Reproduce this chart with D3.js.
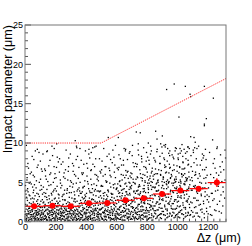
<!DOCTYPE html>
<html>
<head>
<meta charset="utf-8">
<script src="https://cdn.jsdelivr.net/npm/d3@7"></script>
<style>
  body { margin: 0; background: #fff; }
  svg { display: block; font-family: "Liberation Sans", Arial, sans-serif; }
</style>
</head>
<body>
<div id="chart"></div>
<script>
// ====== data ======
// profile (red markers): bin centres in um, mean impact parameter in um
const binCenters = [60, 180, 300, 420, 540, 660, 780, 900, 1020, 1140, 1260];
const binHalfWidth = 60;
const meanIP = [1.96, 2.03, 1.96, 2.34, 2.38, 2.72, 2.97, 3.52, 3.95, 4.2, 4.97];
const meanErr = [0.1, 0.1, 0.1, 0.1, 0.1, 0.12, 0.15, 0.2, 0.25, 0.3, 0.55];

// cut line (red dotted)
const cutX = [0, 500, 1320];
const cutY = [10, 10, 18.2];

// axis ticks
const xTicks = [0, 200, 400, 600, 800, 1000, 1200];
const yTicks = [0, 5, 10, 15, 20, 25];

// scatter points "dz,ip" (estimated)
const dotsRaw = `
5,0.3 12,0.8 18,1.5 22,0.2 27,1.1 31,1.9 36,0.6 40,2.3 44,0.4 48,1.3 53,0.9 57,1.7 61,0.1 65,2.0 69,0.7 73,1.2 77,2.6 81,0.5 85,1.6 89,0.3 93,1.0 97,2.2 101,0.8 105,1.4 109,0.2 113,1.8 117,0.6
8,1.0 15,2.1 25,0.5 33,1.4 46,0.2 55,2.5 63,1.1 71,0.4 79,1.9 87,0.9 95,1.5 103,0.3 111,1.2 119,2.4
10,3.1 20,3.8 38,2.9 50,4.4 66,3.3 84,2.8 99,4.0 115,3.5 28,4.9
14,5.6 42,6.3 58,7.9 75,5.2 92,8.8 108,6.7 81,9.2 3,4.6 35,5.0
124,0.4 128,1.3 133,0.8 137,2.0 141,0.2 146,1.6 150,0.9 154,2.4 158,0.5 162,1.1 167,1.8 171,0.3 175,1.4 179,0.7 183,2.2 188,1.0 192,0.1 196,1.7 200,0.6 205,1.2 209,2.6 213,0.4 217,1.5 221,0.9 226,2.1 230,0.3 234,1.3 238,0.7
126,1.9 139,0.6 152,1.5 165,0.2 178,2.7 190,1.1 203,0.8 215,2.3 228,1.6 236,0.1
131,3.2 144,4.1 160,2.9 173,3.6 186,5.0 199,3.0 211,4.5 224,3.4 192,9.3
135,5.8 156,7.1 169,6.2 181,8.4 194,5.5 207,6.9 219,7.6 232,5.3 147,9.0
243,0.3 247,1.2 251,0.7 255,1.9 259,0.1 264,1.5 268,0.9 272,2.3 276,0.4 280,1.0 285,1.7 289,0.2 293,1.3 297,0.6 301,2.1 306,0.8 310,1.4 314,0.3 318,1.8 322,0.5 327,1.1 331,2.5 335,0.2 339,1.6 343,0.9 348,2.0 352,0.4 356,1.2
245,2.0 258,0.7 271,1.4 283,0.1 296,1.9 309,1.0 321,2.6 334,0.6 346,1.5 358,0.2
249,3.4 262,2.8 278,4.2 291,3.1 304,3.7 317,4.8 329,2.9 342,3.9 355,4.3
253,5.7 266,6.6 287,8.1 299,5.2 312,7.4 325,6.0 338,9.6 350,5.5 330,10.3 361,9.3
363,0.5 367,1.4 371,0.9 375,2.1 379,0.2 384,1.6 388,1.0 392,2.5 396,0.4 400,1.2 405,1.9 409,0.3 413,1.5 417,0.7 421,2.3 426,1.1 430,0.6 434,1.8 438,2.8 442,0.4 447,1.3 451,2.0 455,0.8 459,1.6 463,0.2 468,2.4 472,1.0 476,1.7
365,2.7 378,0.8 391,3.0 403,1.5 416,2.2 429,0.3 441,2.9 454,1.4 466,3.3 478,0.9
369,3.6 382,4.4 398,3.2 411,5.1 424,3.9 437,4.7 449,3.4 462,4.1 474,5.4
373,6.2 386,7.3 407,5.8 419,8.6 432,6.5 445,9.4 457,7.0 470,5.9 420,9.2 458,9.5
483,0.6 487,1.5 491,0.2 495,2.2 499,1.0 504,1.7 508,0.4 512,2.6 516,1.2 520,0.7 525,2.0 529,0.3 533,1.4 537,2.9 541,0.9 546,1.8 550,0.5 554,2.4 558,1.1 562,0.2 567,1.6 571,2.7 575,0.8 579,1.3 583,0.4 588,2.1 592,1.0 596,1.9
485,3.1 498,0.9 511,2.3 523,1.4 536,3.4 549,0.6 561,2.8 574,1.5 586,3.0 598,0.3
489,3.8 502,4.6 518,3.3 531,5.2 544,4.0 557,4.9 569,3.5 582,4.3 594,5.6
493,6.4 506,7.7 527,6.0 539,8.3 552,6.8 565,5.7 577,9.1 590,7.2 547,10.7
603,0.4 607,1.6 611,0.9 615,2.5 619,0.3 624,1.9 628,1.2 632,3.0 636,0.6 640,1.4 645,2.2 649,0.2 653,1.7 657,3.3 661,0.8 666,2.0 670,1.1 674,2.8 678,0.5 682,1.5 687,3.6 691,0.9 695,2.3 699,1.3 703,0.3 708,2.6 712,1.8 716,3.9
605,3.2 618,1.0 631,2.7 643,4.1 656,1.3 669,3.5 681,2.1 694,4.4 706,0.7 718,2.9
609,4.8 622,3.7 638,5.3 651,4.2 664,5.9 677,3.4 689,4.9 702,6.1 714,3.8
613,6.6 626,8.0 647,7.2 659,9.0 672,6.3 685,8.7 697,5.6 710,7.5 613,10.7 661,9.2
723,0.5 727,1.7 731,1.0 735,2.9 739,0.3 744,2.2 748,1.3 752,3.4 756,0.7 760,1.9 765,2.6 769,0.4 773,1.5 777,3.8 781,1.1 786,2.3 790,0.6 794,3.1 798,1.6 802,0.2 807,2.7 811,4.1 815,0.9 819,1.8 823,3.3 828,0.5 832,2.0 836,4.4
725,3.6 738,1.2 751,4.7 763,2.4 776,0.8 789,5.0 801,3.0 814,1.4 826,4.6 838,2.5
729,5.4 742,4.0 758,6.1 771,5.5 784,3.9 797,6.7 809,4.3 822,5.8 834,6.4
733,7.0 746,8.5 767,7.6 779,9.4 792,6.9 805,8.2 817,7.3 830,9.0 731,11.4 757,11.3 744,9.9 810,10.0
843,0.6 847,2.0 851,1.1 855,3.3 859,0.4 864,2.5 868,1.5 872,3.9 876,0.8 880,2.2 885,3.0 889,0.5 893,1.7 897,4.3 901,1.3 906,2.7 910,0.9 914,3.6 918,1.9 922,0.3 927,3.1 931,4.7 935,1.0 939,2.3 943,5.0 948,0.7 952,2.6 956,4.0
845,4.4 858,1.4 871,5.2 883,2.8 896,1.0 909,5.6 921,3.4 934,1.6 946,5.1 958,2.9
849,6.0 862,4.8 878,6.6 891,5.9 904,4.6 917,7.2 929,6.3 942,4.9 954,6.9
853,7.8 866,8.9 887,7.4 899,9.5 912,8.1 925,7.0 937,9.3 950,8.4 858,11.5 902,10.9 867,10.5 891,9.9 913,9.7 921,9.5 930,16.8
963,0.7 967,2.3 971,1.2 975,3.7 979,0.5 984,2.8 988,1.6 992,4.2 996,0.9 1000,2.5 1005,3.3 1009,0.6 1013,1.9 1017,4.6 1021,1.4 1026,3.0 1030,1.0 1034,3.9 1038,2.1 1042,0.4 1047,3.4 1051,5.1 1055,1.1 1059,2.6 1063,5.4 1068,0.8 1072,2.9 1076,4.4
965,4.9 978,1.6 991,5.7 1003,3.1 1016,1.2 1029,6.0 1041,3.8 1054,1.8 1066,5.5 1078,3.2
969,6.5 982,5.3 998,7.1 1011,6.2 1024,4.9 1037,7.6 1049,6.8 1062,5.2 1074,7.3
973,8.2 986,9.0 1007,7.9 1019,8.7 1032,6.7 1045,9.2 1057,8.0 1070,9.5 980,17.5 1053,17.2 1011,13.3 1031,9.8 994,9.3 1018,9.3
1083,0.8 1088,2.5 1093,1.4 1098,4.0 1103,0.6 1108,3.0 1113,1.8 1118,4.6 1123,1.1 1128,2.7 1133,3.6 1138,0.7 1143,2.1 1148,5.0 1153,1.5 1158,3.3 1163,1.2 1168,4.3 1173,2.3 1178,0.5 1183,3.8 1188,5.6 1193,1.3 1197,2.8
1085,5.3 1100,6.4 1115,5.9 1130,7.2 1145,6.1 1160,7.8 1175,5.5 1190,6.9
1090,8.4 1105,9.1 1125,8.0 1140,9.6 1165,8.6 1185,9.2
1084,16.2 1088,15.9 1178,17.2 1191,13.1 1178,12.4 1178,12.2 1088,10.8 1110,10.7 1118,10.1 1079,9.3 1070,9.5 1114,9.4
1203,1.0 1209,3.2 1215,1.9 1221,4.8 1227,0.8 1233,2.7 1239,5.6 1245,1.5 1251,3.9 1257,6.2 1263,2.2 1269,4.5 1275,1.3 1281,7.0 1287,3.4 1293,5.1 1299,2.0 1305,6.6 1311,3.0 1317,8.1
1212,8.8 1236,7.4 1260,9.3 1284,8.5 1237,15.7 1232,10.4 1263,9.5
2,0.9 7,1.6 11,0.4 16,2.7 21,1.3 26,0.1 30,1.7 34,0.9 39,0.3 43,1.5 47,2.1 52,0.6 56,1.0 60,2.9 64,0.5 68,1.8 72,0.2 76,1.4 80,0.8 83,2.3 88,1.1 91,0.4 96,1.9 100,0.6 104,2.6 107,1.1 112,0.3 116,1.5
4,2.2 9,0.2 19,1.0 24,1.7 29,2.4 37,1.2 45,0.7 51,1.9 59,0.4 67,1.4 74,0.9 82,1.2 90,2.0 98,0.1 106,0.9 114,2.8 118,1.0
6,3.5 17,4.2 32,3.3 49,3.0 62,4.7 78,3.6 94,3.2 110,4.1 23,6.8 54,5.9 86,7.2 102,5.4
122,1.1 127,0.3 132,2.2 136,1.4 140,0.6 145,2.8 149,0.2 153,1.0 157,1.8 161,0.5 166,2.5 170,1.2 174,0.1 178,1.6 182,0.9 187,2.0 191,0.4 195,1.3 199,2.3 204,0.7 208,1.5 212,0.2 216,1.9 220,1.1 225,0.5 229,2.6 233,0.8 237,1.7
123,2.5 130,0.7 138,1.5 143,0.3 151,2.0 159,1.3 163,0.8 172,2.2 180,0.4 185,1.5 193,2.9 201,1.0 210,0.6 218,2.4 223,0.3 231,1.1 239,1.9
125,3.7 142,3.1 157,4.6 176,3.4 189,4.0 206,3.9 222,3.0 235,4.3 134,6.5 164,7.8 197,6.1 227,8.0
241,1.0 246,0.4 250,2.2 254,1.1 258,0.6 263,2.7 267,0.2 271,1.6 275,0.9 279,2.0 284,0.5 288,1.3 292,2.4 296,0.1 300,1.0 305,1.8 309,0.6 313,2.2 317,1.1 321,0.3 326,1.5 330,0.8 334,1.9 338,0.4 342,2.6 347,1.3 351,0.7 355,1.8
242,1.6 248,2.8 256,0.3 261,1.2 269,1.9 277,0.6 282,2.5 290,1.0 298,1.5 303,0.4 311,2.0 319,0.9 324,2.9 332,1.4 340,0.2 349,1.0 357,2.3
244,3.2 260,4.0 274,3.6 295,4.5 308,3.0 323,3.8 337,4.9 353,3.3 257,6.2 286,7.0 316,6.4 345,8.3
361,1.1 366,0.3 370,2.4 374,1.3 378,0.6 383,2.9 387,0.2 391,1.7 395,1.0 399,2.2 404,0.5 408,1.5 412,2.6 416,0.4 420,1.2 425,1.9 429,0.8 433,2.4 437,1.3 441,0.1 446,1.6 450,2.8 454,1.1 458,0.5 462,2.1 467,1.4 471,0.7 475,2.5
362,2.0 368,0.9 376,3.1 381,1.5 389,0.3 397,2.7 401,1.0 410,0.6 418,1.8 423,3.0 431,0.4 439,2.2 444,1.1 452,0.2 460,2.6 465,1.5 473,0.3 479,1.2
364,3.6 380,4.3 394,3.4 415,4.8 428,3.7 443,4.2 456,3.9 470,4.6 377,6.0 406,7.4 436,6.6 464,8.0
481,1.2 486,0.4 490,2.6 494,1.5 498,0.7 503,3.0 507,0.3 511,1.8 515,1.1 519,2.4 524,0.6 528,1.6 532,2.8 536,0.2 540,1.3 545,2.1 549,0.9 553,2.6 557,1.4 561,0.5 566,1.9 570,3.1 574,1.0 578,0.3 582,2.2 587,1.5 591,0.8 595,2.7
482,2.1 488,1.0 496,3.3 501,1.6 509,0.4 517,2.9 521,1.2 530,0.7 538,2.0 543,3.2 551,0.5 559,2.3 564,1.2 572,0.3 580,2.5 585,1.7 593,0.5 599,1.3
484,3.9 500,4.5 514,3.6 535,5.0 548,3.8 563,4.4 576,3.5 590,4.8 497,6.2 526,7.0 556,6.5 584,8.2
601,1.3 606,0.5 610,2.8 614,1.6 618,0.8 623,3.2 627,0.3 631,2.0 635,1.2 639,2.6 644,0.7 648,1.8 652,3.0 656,0.2 660,1.4 665,2.3 669,1.0 673,2.9 677,1.6 681,0.6 686,2.1 690,3.4 694,1.1 698,0.4 702,2.5 707,1.7 711,0.9 715,3.1
602,2.3 608,1.1 616,3.6 621,1.8 629,0.5 637,3.3 641,1.4 650,0.8 658,2.2 663,3.8 671,0.6 679,2.6 684,1.3 692,0.3 700,2.8 705,1.9 713,0.6 719,1.5
604,4.3 620,5.1 634,4.0 655,5.6 668,4.5 683,5.0 696,4.2 710,5.4 617,6.9 646,7.8 676,6.4 704,8.4 625,4.6 662,4.9 690,5.8
721,1.4 726,0.6 730,3.0 734,1.8 738,0.9 743,3.5 747,0.4 751,2.2 755,1.3 759,2.8 764,0.8 768,2.0 772,3.3 776,0.3 780,1.5 785,2.5 789,1.1 793,3.2 797,1.8 801,0.7 806,2.3 810,3.7 814,1.2 818,0.5 822,2.7 827,1.9 831,1.0 835,3.4
722,2.5 728,1.2 736,3.9 741,2.0 749,0.6 757,3.6 761,1.5 770,0.9 778,2.4 783,4.2 791,0.7 799,2.9 804,1.4 812,0.4 820,3.0 825,2.1 833,0.8 839,1.7
724,4.8 740,5.6 754,4.5 775,6.0 788,5.2 803,5.7 816,4.9 830,6.2 737,7.3 766,8.0 796,7.7 824,8.6 745,4.4 782,4.6 812,5.3 836,5.0
841,1.6 846,0.7 850,3.4 854,2.0 858,1.0 863,3.9 867,0.5 871,2.5 875,1.5 879,3.2 884,0.9 888,2.3 892,3.7 896,0.4 900,1.7 905,2.9 909,1.3 913,3.6 917,2.1 921,0.8 926,2.6 930,4.2 934,1.4 938,0.6 942,3.1 947,2.2 951,1.1 955,3.8
842,2.9 848,1.4 856,4.4 861,2.3 869,0.7 877,4.0 881,1.8 890,1.0 898,2.8 903,4.6 911,0.9 919,3.3 924,1.6 932,0.5 940,3.5 945,2.4 953,1.0 959,2.0
844,5.4 860,6.1 874,5.0 895,6.5 908,5.7 923,6.2 936,5.3 950,6.8 857,7.6 886,8.3 916,7.9 944,8.7 865,4.9 900,5.1 928,4.8 955,5.5
961,1.7 966,0.8 970,3.8 974,2.3 978,1.1 983,4.3 987,0.6 991,2.8 995,1.7 999,3.6 1004,1.0 1008,2.6 1012,4.1 1016,0.5 1020,2.0 1025,3.3 1029,1.5 1033,4.0 1037,2.4 1041,0.9 1046,3.0 1050,4.7 1054,1.6 1058,0.7 1062,3.5 1067,2.5 1071,1.2 1075,4.2
962,3.2 968,1.6 976,4.9 981,2.6 989,0.8 997,4.4 1001,2.0 1010,1.2 1018,3.1 1023,5.1 1031,1.0 1039,3.7 1044,1.8 1052,0.6 1060,3.9 1065,2.7 1073,1.1 1079,2.2
964,5.8 980,6.6 994,5.4 1015,7.0 1028,6.1 1043,6.7 1056,5.6 1070,7.2 977,8.0 1006,8.6 1036,8.3 1064,8.9 985,5.0 1020,5.3 1048,4.8 1077,5.7
1081,1.8 1087,0.9 1092,4.0 1097,2.4 1102,1.2 1107,4.5 1112,0.7 1117,3.0 1122,1.9 1127,3.8 1132,1.1 1137,2.7 1142,4.4 1147,0.6 1152,2.2 1157,3.5 1162,1.6 1167,4.2 1172,2.6 1177,1.0 1182,3.2 1187,4.9 1192,1.7 1196,3.4
1095,5.6 1120,6.3 1150,5.8 1180,6.6 1110,7.5 1170,8.1
1206,2.5 1218,0.9 1224,3.6 1242,2.9 1254,1.4 1266,4.0 1278,2.6 1290,1.1 1302,3.8 1314,5.3 1248,6.8 1296,7.6
3,3.9 13,5.3 19,7.4 27,3.4 34,6.1 41,4.8 47,8.3 54,3.7 62,5.7 68,9.0 73,4.3 80,6.9 88,3.5 94,5.0 101,7.7 106,4.6 113,6.4 118,8.6 9,9.7 57,4.0
121,4.4 129,6.7 136,3.6 143,8.9 150,5.1 157,3.3 163,6.0 170,4.7 177,9.6 184,3.8 191,7.0 198,4.2 204,5.6 212,8.2 219,3.5 226,6.3 233,4.9 238,7.3 140,5.4 208,9.9
242,4.6 249,7.6 256,3.5 263,5.5 270,9.1 277,4.0 284,6.4 291,3.7 298,8.6 305,5.0 312,4.4 319,7.1 326,3.4 333,5.8 340,9.4 347,4.1 354,6.9 359,3.9 281,5.3 336,7.9
362,5.0 369,7.8 376,3.8 383,6.2 390,4.5 397,9.0 404,3.6 411,6.8 418,4.2 425,8.1 432,5.4 439,3.7 446,7.3 453,4.8 460,6.0 467,9.6 474,3.9 479,5.7 393,5.2 435,8.8
482,5.2 489,8.0 496,3.9 503,6.6 510,4.5 517,9.3 524,3.7 531,7.0 538,5.1 545,4.0 552,8.6 559,5.9 566,3.6 573,7.5 580,4.7 587,6.3 594,9.7 599,4.1 513,5.8 562,7.9
601,4.2 606,6.8 612,3.9 617,8.5 623,5.2 628,4.5 634,7.2 640,3.6 645,5.9 651,9.3 656,4.8 662,6.5 667,3.8 673,7.9 678,5.5 684,4.1 689,8.9 695,6.2 700,4.6 706,9.7 711,5.0 717,7.0 632,6.0 690,4.4
721,4.9 726,7.4 732,3.9 737,5.7 743,9.1 748,4.5 754,6.6 759,3.8 765,8.3 770,5.2 776,4.2 781,7.0 787,5.9 792,3.7 798,8.8 803,6.3 809,4.6 814,7.8 820,5.5 825,9.6 831,4.1 836,6.8 762,5.6 805,4.9 828,5.1
841,5.8 846,8.1 852,4.3 857,6.7 863,3.9 868,9.2 874,5.3 879,4.6 885,7.4 890,6.0 896,3.8 901,8.7 907,5.4 912,4.2 918,6.9 923,9.8 929,5.1 934,7.7 940,4.4 945,6.2 951,9.0 956,5.6 870,6.1 915,5.0 948,7.3
961,6.0 966,8.5 972,4.6 977,7.2 983,5.4 988,9.4 994,4.2 999,6.4 1005,8.1 1010,5.0 1016,6.9 1021,4.4 1027,9.0 1032,5.7 1038,7.5 1043,4.8 1049,6.1 1054,8.7 1060,5.3 1065,4.1 1071,7.8 1076,6.3 990,5.1 1040,5.9
1082,4.7 1091,7.0 1099,5.2 1106,8.8 1114,4.4 1121,6.0 1129,9.3 1136,5.5 1144,3.9 1151,7.2 1159,4.9 1166,6.6 1174,8.4 1181,4.3 1189,7.9 1196,5.9
1205,4.3 1219,6.0 1230,3.6 1244,8.0 1258,4.9 1272,5.9 1286,6.3 1300,4.4 1314,9.1
1,1.3 14,0.6 23,1.0 32,0.3 42,0.9 50,1.5 58,0.7 66,0.3 75,1.0 86,0.2 92,1.3 102,1.8 110,0.5 120,0.9
129,1.8 135,0.4 147,1.1 155,0.6 164,1.4 173,0.9 181,1.2 189,0.5 197,0.3 207,1.9 214,1.0 222,1.4 232,0.5 240,1.1
244,0.8 252,1.4 260,1.7 270,0.4 278,1.3 287,0.7 295,1.1 304,1.5 312,0.2 320,1.3 328,0.6 337,1.0 345,0.3 354,0.7
364,1.0 372,0.5 380,1.8 390,1.2 398,0.7 406,1.1 414,0.2 422,0.6 432,1.4 440,0.9 448,0.5 457,1.0 464,1.7 477,0.6
484,0.9 492,1.6 502,0.5 510,1.2 518,0.2 526,1.0 534,0.6 544,1.5 552,1.2 560,0.8 568,0.4 576,1.1 586,0.2 594,0.7
604,1.0 612,0.4 620,1.5 630,0.9 638,0.2 647,1.2 654,0.6 664,1.6 672,0.4 680,1.0 688,0.6 697,1.9 709,1.2 717,0.4
724,1.1 732,0.4 742,1.6 750,0.9 758,0.5 767,1.3 774,1.9 782,0.6 792,1.4 800,1.1 808,0.3 816,2.2 826,1.5 834,0.2
`;
const dots = dotsRaw.trim().split(/\s+/).map((s) => {
  const p = s.split(",");
  return { dz: +p[0], ip: +p[1] };
});

// ====== layout ======
const width = 252, height = 246;
const padLeft = 25, padRight = 226, padTop = 25, padBottom = 221.7;

const svg = d3.select("#chart").append("svg")
  .attr("width", width)
  .attr("height", height);

const x = d3.scaleLinear().domain([0, 1320]).range([padLeft, padRight]);
const y = d3.scaleLinear().domain([0, 25]).range([padBottom, padTop]);

// scatter
svg.append("g")
  .selectAll("rect")
  .data(dots)
  .join("rect")
  .attr("x", (d) => x(d.dz) - 0.65)
  .attr("y", (d) => y(d.ip) - 0.65)
  .attr("width", 1.3)
  .attr("height", 1.3)
  .attr("fill", "#000");

// cut line
const cut = cutX.map((v, i) => [v, cutY[i]]);
svg.append("path")
  .datum(cut)
  .attr("fill", "none")
  .attr("stroke", "#ff3030")
  .attr("stroke-width", 1)
  .attr("stroke-dasharray", "1.2,1")
  .attr("d", d3.line().x((d) => x(d[0])).y((d) => y(d[1])));

// profile
const prof = binCenters.map((c, i) => ({ c: c, m: meanIP[i], e: meanErr[i] }));
const pg = svg.append("g");
pg.selectAll(".hbar")
  .data(prof)
  .join("line")
  .attr("x1", (d) => x(d.c - binHalfWidth))
  .attr("x2", (d) => x(d.c + binHalfWidth))
  .attr("y1", (d) => y(d.m))
  .attr("y2", (d) => y(d.m))
  .attr("stroke", "red")
  .attr("stroke-width", 1.2);
pg.selectAll(".vbar")
  .data(prof)
  .join("line")
  .attr("x1", (d) => x(d.c))
  .attr("x2", (d) => x(d.c))
  .attr("y1", (d) => y(d.m - d.e))
  .attr("y2", (d) => y(d.m + d.e))
  .attr("stroke", "red")
  .attr("stroke-width", 1.2);
pg.selectAll("circle")
  .data(prof)
  .join("circle")
  .attr("cx", (d) => x(d.c))
  .attr("cy", (d) => y(d.m))
  .attr("r", 3)
  .attr("fill", "red");

// ====== axes (ROOT style, ticks inside) ======
const xAxis = svg.append("g")
  .attr("transform", `translate(0,${padBottom})`)
  .call(d3.axisBottom(x).tickValues(xTicks).tickSize(0).tickPadding(2).tickFormat(d3.format("d")));
xAxis.select(".domain").remove();
xAxis.selectAll("text").style("font-size", "9px").attr("fill", "#000");

const yAxis = svg.append("g")
  .attr("transform", `translate(${padLeft},0)`)
  .call(d3.axisLeft(y).tickValues(yTicks).tickSize(0).tickPadding(2));
yAxis.select(".domain").remove();
yAxis.selectAll("text").style("font-size", "9px").attr("fill", "#000");

// tick marks
const tk = svg.append("g").attr("stroke", "#555").attr("stroke-width", 1);
tk.selectAll(".xt")
  .data(d3.range(0, 1321, 40))
  .join("line")
  .attr("x1", (d) => x(d))
  .attr("x2", (d) => x(d))
  .attr("y1", padBottom)
  .attr("y2", (d) => padBottom - (d % 200 === 0 ? 6 : 3));
tk.selectAll(".yt")
  .data(d3.range(0, 26, 1))
  .join("line")
  .attr("y1", (d) => y(d))
  .attr("y2", (d) => y(d))
  .attr("x1", padLeft)
  .attr("x2", (d) => padLeft + (d % 5 === 0 ? 6 : 3));

// frame
svg.append("rect")
  .attr("x", padLeft)
  .attr("y", padTop)
  .attr("width", padRight - padLeft)
  .attr("height", padBottom - padTop)
  .attr("fill", "none")
  .attr("stroke", "#777")
  .attr("stroke-width", 1);

// titles
svg.append("text")
  .attr("x", 241)
  .attr("y", 242)
  .attr("text-anchor", "end")
  .style("font-size", "12.6px")
  .text("Δz (μm)");

svg.append("text")
  .attr("transform", "translate(11.5,25) rotate(-90)")
  .attr("text-anchor", "end")
  .style("font-size", "12.6px")
  .text("Impact parameter (μm)");
</script>
</body>
</html>
